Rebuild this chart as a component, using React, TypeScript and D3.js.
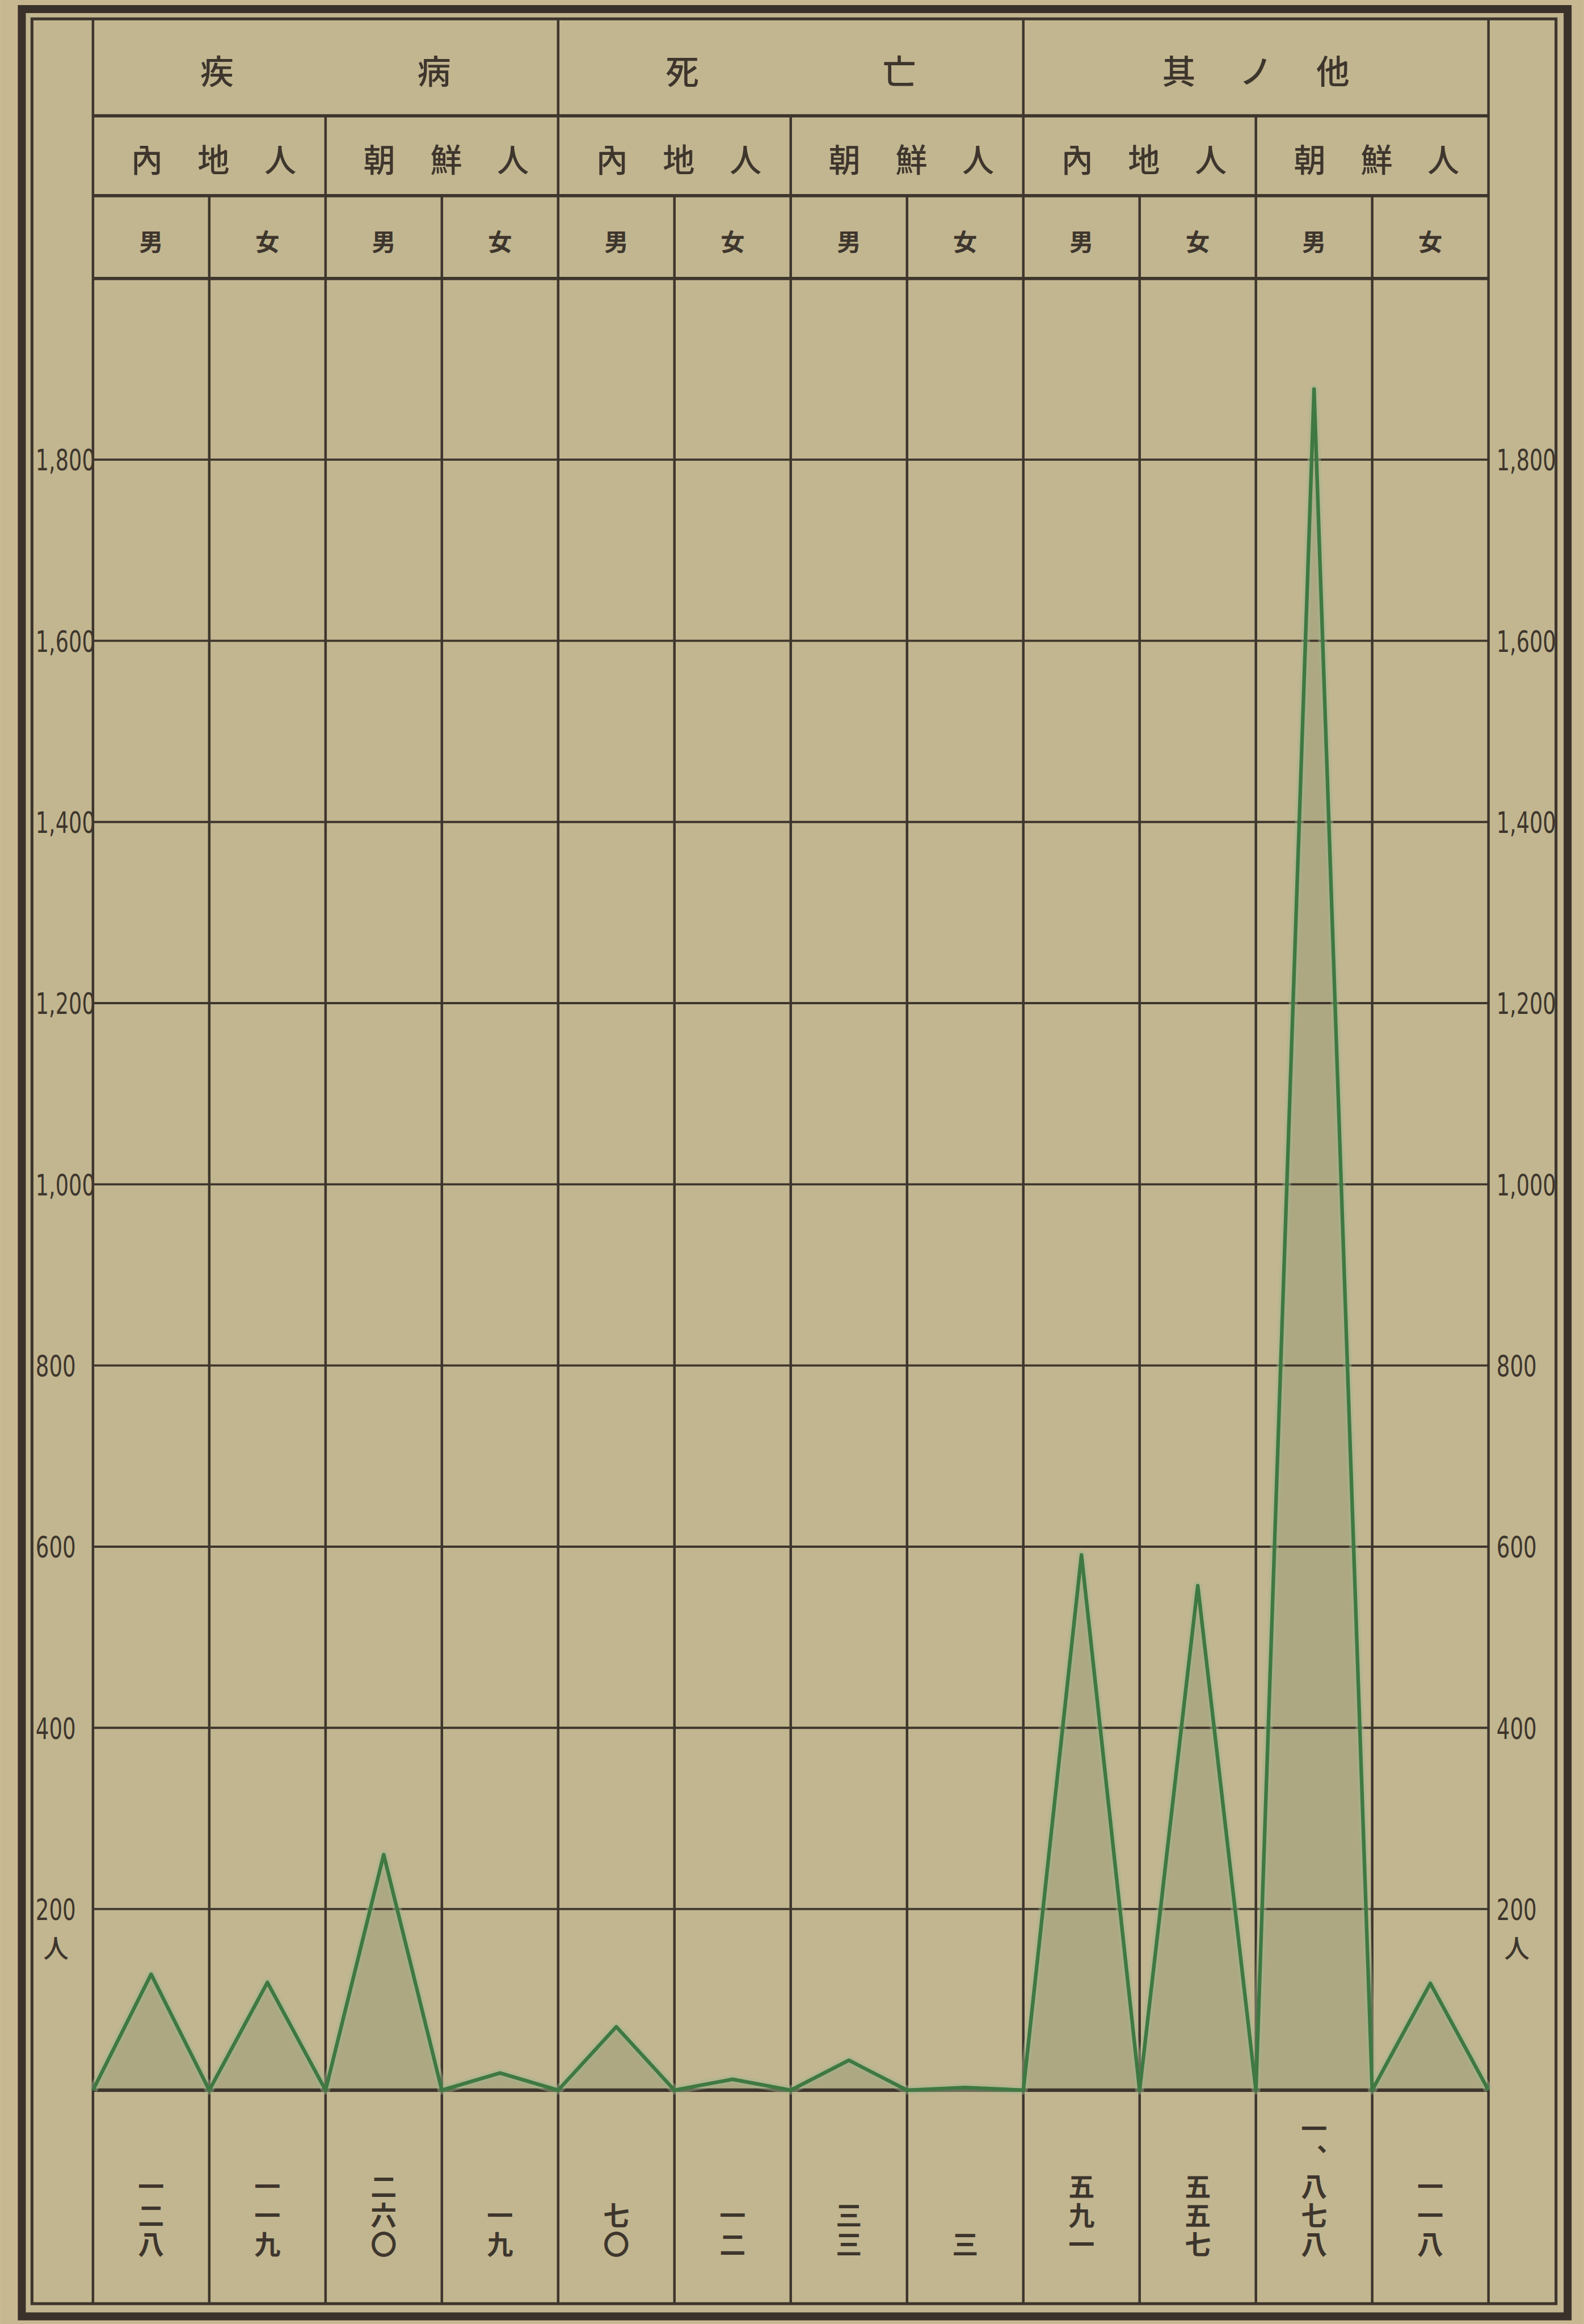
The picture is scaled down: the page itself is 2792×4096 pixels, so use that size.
import React from "react";
import * as d3 from "d3";

const W = 4363;
const H = 6401;

// header categories
const causes = ["疾病", "死亡", "其ノ他"];
const peoples = ["內地人", "朝鮮人"];
const sexes = ["男", "女"];

// persons per column, read from the vertical numerals under each column
const values = [128, 119, 260, 19, 70, 12, 33, 3, 591, 557, 1878, 118];
const valueLabels = ["一二八", "一一九", "二六〇", "一九", "七〇", "一二", "三三", "三", "五九一", "五五七", "一、八七八", "一一八"];

const yTicks = [200, 400, 600, 800, 1000, 1200, 1400, 1600, 1800];
const yTickLabels = ["200", "400", "600", "800", "1,000", "1,200", "1,400", "1,600", "1,800"];
const unitLabel = "人";

const FRAME = { outerL: 60, outerR: 4318, outerT: 25, outerB: 6380, innerL: 88, innerR: 4286, innerT: 52, innerB: 6345 };
const PLOT = { left: 256, right: 4100, row1: 319, row2: 539, top: 767, base: 5757 };

const PAPER = "#c2b690";
const INK = "#3e362d";
const GREEN = "#3f7842";
const CJK = "'Noto Sans CJK JP', 'Noto Sans CJK TC', sans-serif";
const NUM = "'DejaVu Sans', 'Liberation Sans', sans-serif";

const nCols = values.length;

export default function App() {
  const x = d3.scaleBand<number>().domain(d3.range(nCols)).range([PLOT.left, PLOT.right]).padding(0);
  const y = d3.scaleLinear().domain([0, 2000]).range([PLOT.base, PLOT.top]);
  const bw = x.bandwidth();
  const edge = (i: number) => (i < nCols ? (x(i) as number) : PLOT.right);
  const mid = (i: number) => edge(i) + bw / 2;

  // zig-zag: column left edge at zero, peak at the column middle
  const pts: [number, number][] = [];
  values.forEach((v, i) => {
    pts.push([edge(i), 0]);
    pts.push([mid(i), v]);
  });
  pts.push([edge(nCols), 0]);

  const line = d3.line<[number, number]>().x((d) => d[0]).y((d) => y(d[1]));
  const area = d3.area<[number, number]>().x((d) => d[0]).y0(y(0)).y1((d) => y(d[1]));

  const perCause = peoples.length * sexes.length;

  const vLines = d3.range(nCols + 1).map((i) => {
    const top = i % perCause === 0 ? FRAME.innerT : i % sexes.length === 0 ? PLOT.row1 : PLOT.row2;
    return (
      <line key={"v" + i} x1={edge(i)} x2={edge(i)} y1={top} y2={FRAME.innerB} stroke={INK} strokeWidth={7} />
    );
  });

  const hLines = [PLOT.row1, PLOT.row2, PLOT.top].map((yy, i) => (
    <line key={"h" + i} x1={PLOT.left} x2={PLOT.right} y1={yy} y2={yy} stroke={INK} strokeWidth={9} />
  ));

  const grid = yTicks.map((t) => (
    <line key={"g" + t} x1={PLOT.left} x2={PLOT.right} y1={y(t)} y2={y(t)} stroke={INK} strokeWidth={6} />
  ));

  // cause headers
  const causeText = causes.map((c, gi) => {
    const chars = Array.from(c);
    const gc = (edge(gi * perCause) + edge((gi + 1) * perCause)) / 2;
    const step = chars.length === 2 ? 598 : 212;
    return chars.map((ch, k) => (
      <text key={"c" + gi + k} x={gc + (k - (chars.length - 1) / 2) * step} y={192}
        fontSize={92} fontFamily={CJK} fontWeight={500} fill={INK} textAnchor="middle" dominantBaseline="central">
        {ch}
      </text>
    ));
  });

  const peopleText = causes.flatMap((_, gi) =>
    peoples.map((p, pi) => {
      const i0 = gi * perCause + pi * sexes.length;
      const pc = (edge(i0) + edge(i0 + sexes.length)) / 2;
      return Array.from(p).map((ch, k) => (
        <text key={"p" + gi + pi + k} x={pc + 12 + (k - 1) * 184} y={436}
          fontSize={88} fontFamily={CJK} fontWeight={500} fill={INK} textAnchor="middle" dominantBaseline="central">
          {ch}
        </text>
      ));
    })
  );

  const sexText = d3.range(nCols).map((i) => (
    <text key={"s" + i} x={mid(i)} y={662} fontSize={66} fontFamily={CJK} fontWeight={700} fill={INK}
      textAnchor="middle" dominantBaseline="central">
      {sexes[i % sexes.length]}
    </text>
  ));

  // vertical numerals, set top-to-bottom and ending at the same foot line
  const valueText = valueLabels.map((lab, i) => (
    <text key={"n" + i} x={mid(i)} y={6226} fontSize={72} fontFamily={CJK} fontWeight={700} fill={INK}
      textAnchor="end" style={{ writingMode: "vertical-rl", letterSpacing: "8px" }}>
      {lab}
    </text>
  ));

  const tickLen = (s: string) => s.replace(/,/g, "").length * 37 + (s.includes(",") ? 16 : 0);
  const tickText = (side: "l" | "r", x0: number) =>
    yTicks.map((t, i) => (
      <text key={side + t} x={x0} y={y(t) + 2} fontSize={80} fontFamily={NUM} fill={INK} dominantBaseline="central"
        textLength={tickLen(yTickLabels[i])} lengthAdjust="spacingAndGlyphs">
        {yTickLabels[i]}
      </text>
    ));
  // unit 人 under the lowest tick on both sides
  const unitText = (x0: number) => (
    <text x={x0 + 56} y={y(yTicks[0]) + 104} fontSize={70} fontFamily={CJK} fontWeight={500} fill={INK}
      textAnchor="middle" dominantBaseline="central">
      {unitLabel}
    </text>
  );

  return (
    <svg width={2792} height={4096} viewBox={`0 0 ${W} ${H}`}
      style={{ position: "absolute", left: 0, top: 0, display: "block" }}>
      <rect x={0} y={0} width={W} height={H} fill="#c8b891" />
      <rect x={FRAME.outerL} y={FRAME.outerT} width={FRAME.outerR - FRAME.outerL} height={FRAME.outerB - FRAME.outerT}
        fill={PAPER} />
      <path d={area(pts) || ""} fill="#7f8760" fillOpacity={0.3} />
      {grid}
      {hLines}
      {vLines}
      <line x1={PLOT.left} x2={PLOT.right} y1={y(0)} y2={y(0)} stroke={INK} strokeWidth={10} />
      <path d={line(pts) || ""} fill="none" stroke="#9fb58f" strokeOpacity={0.45} strokeWidth={24} strokeLinejoin="round" />
      <path d={line(pts) || ""} fill="none" stroke={GREEN} strokeWidth={10} strokeLinejoin="round" />
      {causeText}
      {peopleText}
      {sexText}
      {valueText}
      {tickText("l", FRAME.innerL + 10)}
      {tickText("r", PLOT.right + 22)}
      {unitText(FRAME.innerL + 10)}
      {unitText(PLOT.right + 22)}
      <rect x={FRAME.innerL} y={FRAME.innerT} width={FRAME.innerR - FRAME.innerL} height={FRAME.innerB - FRAME.innerT}
        fill="none" stroke={INK} strokeWidth={8} />
      <rect x={FRAME.outerL} y={FRAME.outerT} width={FRAME.outerR - FRAME.outerL} height={FRAME.outerB - FRAME.outerT}
        fill="none" stroke="#3a322a" strokeWidth={22} />
    </svg>
  );
}
